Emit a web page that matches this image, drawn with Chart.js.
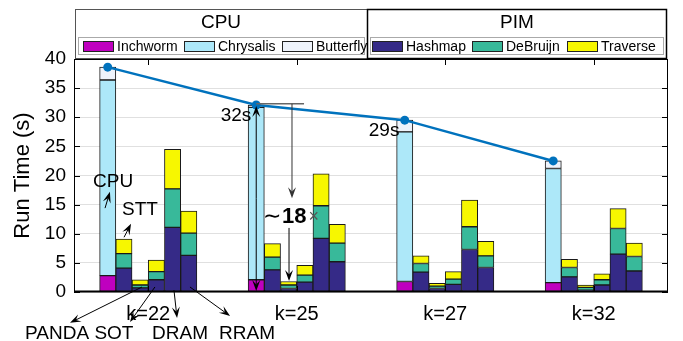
<!DOCTYPE html>
<html>
<head>
<meta charset="utf-8">
<script src="https://cdn.jsdelivr.net/npm/chart.js@4.4.0/dist/chart.umd.min.js"></script>
<style>
  html, body { margin: 0; padding: 0; background: #fff; }
  #wrap { width: 683px; height: 341px; }
</style>
</head>
<body>
<div id="wrap"><canvas id="myChart" width="683" height="341"></canvas></div>
<script>
// groups on x axis
const kLabels = ['k=22', 'k=25', 'k=27', 'k=32'];
const pimTypes = ['STT', 'PANDA', 'SOT', 'DRAM', 'RRAM'];

// CPU stages (s), one per k
const inchworm  = [2.8, 2.1, 1.8, 1.6];
const chrysalis = [33.6, 29.6, 25.7, 19.6];
const butterfly = [2.2, 0.4, 2.0, 1.3];

// PIM stages (s): rows follow pimTypes, columns follow kLabels
const hashmap = [
  [4.1, 3.8, 3.4, 2.6],
  [0.7, 0.6, 0.6, 0.3],
  [2.1, 1.7, 1.3, 1.2],
  [11.1, 9.2, 7.3, 6.5],
  [6.3, 5.2, 4.2, 3.6]
];
const debruijn = [
  [2.5, 2.2, 1.5, 1.6],
  [0.5, 0.6, 0.4, 0.5],
  [1.4, 1.2, 0.9, 0.9],
  [6.6, 5.6, 3.9, 4.4],
  [3.8, 3.2, 2.0, 2.5]
];
const traverse = [
  [2.5, 2.3, 1.3, 1.4],
  [0.9, 0.6, 0.5, 0.4],
  [2.0, 1.7, 1.3, 1.0],
  [6.8, 5.5, 4.6, 3.4],
  [3.8, 3.2, 2.5, 2.3]
];

// y axis
const yMax = 40;
const yStep = 5;

// 색상
const colors = {
  Inchworm: '#BF00BF',
  Chrysalis: '#ADE8F9',
  Butterfly: '#EEF3FB',
  Hashmap: '#352A87',
  DeBruijn: '#38B99A',
  Traverse: '#F7F700'
};
const lineColor = '#0072BD';
const FONT = '"Liberation Sans", Arial, Helvetica, sans-serif';

Chart.defaults.font.family = FONT;
Chart.defaults.color = '#000';

// bar slots inside one k group (CPU + 5 PIM)
const groupFill = 0.655;
const nSlots = 1 + pimTypes.length;
const slotW = groupFill / nSlots;
const xPos = (g, j) => g + (j - (nSlots - 1) / 2) * slotW;

const cpuTotals = inchworm.map((v, i) => +(v + chrysalis[i] + butterfly[i]).toFixed(2));

const barDs = (label, points) => ({
  type: 'bar',
  label: label,
  data: points,
  backgroundColor: colors[label],
  borderColor: '#1a1a1a',
  borderWidth: 1,
  borderSkipped: false,
  categoryPercentage: 1.0,
  barPercentage: 1.0
});

const cpuPoints = (arr) => arr.map((v, g) => ({ x: xPos(g, 0), y: v }));
const pimPoints = (rows) => {
  let pts = [];
  rows.forEach((row, j) => {
    row.forEach((v, g) => pts.push({ x: xPos(g, j + 1), y: v }));
  });
  return pts;
};

let datasets = [
  barDs('Inchworm', cpuPoints(inchworm)),
  barDs('Chrysalis', cpuPoints(chrysalis)),
  barDs('Butterfly', cpuPoints(butterfly)),
  barDs('Hashmap', pimPoints(hashmap)),
  barDs('DeBruijn', pimPoints(debruijn)),
  barDs('Traverse', pimPoints(traverse)),
  {
    type: 'line',
    label: 'CPU total',
    data: cpuPoints(cpuTotals),
    borderColor: lineColor,
    backgroundColor: lineColor,
    borderWidth: 2.5,
    pointRadius: 4.5,
    pointBackgroundColor: lineColor,
    pointBorderWidth: 0,
    order: -1
  }
];

const drawArrow = (c, x1, y1, x2, y2, color) => {
  const ang = Math.atan2(y2 - y1, x2 - x1);
  const len = 11, half = 4;
  c.save();
  c.strokeStyle = color;
  c.fillStyle = color;
  c.lineWidth = 1;
  c.beginPath();
  c.moveTo(x1, y1);
  c.lineTo(x2 - Math.cos(ang) * len * 0.6, y2 - Math.sin(ang) * len * 0.6);
  c.stroke();
  c.translate(x2, y2);
  c.rotate(ang);
  c.beginPath();
  c.moveTo(0, 0);
  c.lineTo(-len, -half);
  c.lineTo(-len * 0.6, 0);
  c.lineTo(-len, half);
  c.closePath();
  c.fill();
  c.restore();
};

// annotations, in (x index, seconds)
const memLabels = [
  { text: 'PANDA', from: [-0.042, 0.86], to: [-0.527, -5.3], at: [-0.614, -7.2] },
  { text: 'SOT',   from: [0.045, 0.86],  to: [-0.123, -5.15], at: [-0.231, -7.2] },
  { text: 'DRAM',  from: [0.173, 0.34],  to: [0.194, -4.46], at: [0.214, -7.2] },
  { text: 'RRAM',  from: [0.281, 0.86],  to: [0.551, -4.12], at: [0.665, -7.2] }
];
const upLabels = [
  { text: 'CPU', from: [-0.291, 14.4], to: [-0.258, 17.2], at: [-0.237, 18.9] },
  { text: 'STT', from: [-0.163, 9.4],  to: [-0.116, 11.7], at: [-0.056, 14.1] }
];
const timeLabels = [
  { text: '32s', at: [0.591, 30.2] },
  { text: '29s', at: [1.588, 27.6] }
];

const annotePlugin = {
  id: 'annote',
  afterDatasetsDraw(chart) {
    const c = chart.ctx;
    const xs = chart.scales.x, ys = chart.scales.y;
    const P = (p) => [xs.getPixelForValue(p[0]), ys.getPixelForValue(p[1])];
    c.save();
    c.textAlign = 'center';
    c.textBaseline = 'middle';
    c.fillStyle = '#000';

    c.font = '19px ' + FONT;
    upLabels.concat(memLabels).forEach(l => {
      const a = P(l.from), b = P(l.to), t = P(l.at);
      drawArrow(c, a[0], a[1], b[0], b[1], '#000');
      c.fillText(l.text, t[0], t[1]);
    });
    timeLabels.forEach(l => {
      const t = P(l.at);
      c.fillText(l.text, t[0], t[1]);
    });

    // 32s 기준선과 ~18x 화살표
    const xc = xPos(1, 0);
    const top = P([xc, cpuTotals[1]]);
    const bot = P([xc, 0]);
    drawArrow(c, top[0], (top[1] + bot[1]) / 2, top[0], top[1] + 1, '#000');
    drawArrow(c, top[0], (top[1] + bot[1]) / 2, top[0], bot[1] - 1, '#000');
    const h0 = P([xc, 32.3]), h1 = P([1.049, 32.3]);
    c.strokeStyle = '#666';
    c.lineWidth = 1.5;
    c.beginPath();
    c.moveTo(h0[0], h0[1]);
    c.lineTo(h1[0], h1[1]);
    c.stroke();
    const a1 = P([0.968, 32.3]), a2 = P([0.968, 16.1]);
    drawArrow(c, a1[0], a1[1], a2[0], a2[1], '#333');
    const b1 = P([0.948, 11.0]), b2 = P([0.948, 1.9]);
    drawArrow(c, b1[0], b1[1], b2[0], b2[1], '#000');

    const m = P([0.961, 12.9]);
    c.textAlign = 'left';
    c.font = '22px ' + FONT;
    const w1 = c.measureText('\u223C').width;
    c.font = 'bold 22px ' + FONT;
    const w2 = c.measureText('18').width;
    c.font = '18px ' + FONT;
    const w3 = c.measureText('\u00D7').width;
    let x = m[0] - (w1 + w2 + w3 + 3) / 2;
    c.font = '22px ' + FONT;
    c.fillText('\u223C', x, m[1]);
    x += w1 + 1;
    c.font = 'bold 22px ' + FONT;
    c.fillText('18', x, m[1]);
    x += w2 + 2;
    c.font = '18px ' + FONT;
    c.fillStyle = '#555';
    c.fillText('\u00D7', x, m[1]);
    c.restore();
  }
};

const framePlugin = {
  id: 'frame',
  afterDraw(chart) {
    const c = chart.ctx;
    const a = chart.chartArea;
    const xs = chart.scales.x, ys = chart.scales.y;
    c.save();
    c.strokeStyle = '#000';
    c.lineWidth = 1;
    c.strokeRect(a.left + 0.5, a.top + 0.5, a.right - a.left - 1, a.bottom - a.top - 1);
    c.lineWidth = 2;
    c.beginPath();
    c.moveTo(a.left, a.bottom - 0.5);
    c.lineTo(a.right, a.bottom - 0.5);
    c.stroke();
    c.lineWidth = 1;
    c.beginPath();
    kLabels.forEach((k, i) => {
      const x = Math.round(xs.getPixelForValue(i)) + 0.5;
      c.moveTo(x, a.top);
      c.lineTo(x, a.top + 6);
      c.moveTo(x, a.bottom);
      c.lineTo(x, a.bottom - 6);
    });
    for (let v = 0; v <= yMax; v += yStep) {
      const y = Math.round(ys.getPixelForValue(v)) + 0.5;
      c.moveTo(a.right, y);
      c.lineTo(a.right - 6, y);
      c.moveTo(a.left, y);
      c.lineTo(a.left + 6, y);
    }
    c.stroke();

    // 범례 상자
    const L = a.left + 1, M = 367, R = a.right - 1, T = 9, B = 58;
    c.fillStyle = '#fff';
    c.fillRect(L, T, R - L, B - T);
    c.strokeStyle = '#555';
    c.strokeRect(L + 0.5, T + 0.5, M - L, B - T);
    c.strokeStyle = '#000';
    c.lineWidth = 1.5;
    c.strokeRect(M + 0.5, T + 0.5, R - M - 1, B - T);
    c.lineWidth = 1;
    c.strokeStyle = '#aaa';
    c.strokeRect(L + 3.5, 37.5, M - L - 6, 17);
    c.strokeRect(M + 3.5, 37.5, R - M - 7, 17);

    c.fillStyle = '#000';
    c.textAlign = 'center';
    c.textBaseline = 'middle';
    c.font = '19px ' + FONT;
    c.fillText('CPU', (L + M) / 2, 23);
    c.fillText('PIM', (M + R) / 2, 23);

    const items = [
      ['Inchworm', 83], ['Chrysalis', 184], ['Butterfly', 282],
      ['Hashmap', 372], ['DeBruijn', 472], ['Traverse', 567]
    ];
    c.font = '14px ' + FONT;
    c.textAlign = 'left';
    items.forEach(([name, x]) => {
      c.fillStyle = colors[name];
      c.fillRect(x, 41, 31, 11);
      c.strokeStyle = '#222';
      c.strokeRect(x + 0.5, 41.5, 30, 10);
      c.fillStyle = '#000';
      c.fillText(name, x + 34, 47);
    });
    c.restore();
  }
};

let ctx = document.querySelector('#myChart');

let charter = new Chart(ctx, {
  type: 'bar',
  data: {
    datasets: datasets
  },
  options: {
    responsive: false,
    animation: false,
    devicePixelRatio: 1,
    layout: { padding: { top: 59, right: 15, left: 0, bottom: 0 } },
    plugins: {
      legend: { display: false },
      tooltip: { enabled: false }
    },
    scales: {
      x: {
        type: 'linear',
        stacked: true,
        offset: false,
        min: -0.5,
        max: kLabels.length - 0.5,
        grid: { display: false, drawTicks: false, offset: false },
        border: { display: false },
        afterBuildTicks: (s) => { s.ticks = kLabels.map((k, i) => ({ value: i })); },
        ticks: {
          autoSkip: false,
          maxRotation: 0,
          font: { size: 20 },
          padding: 10,
          color: '#000',
          callback: (v, i) => kLabels[i]
        },
        afterFit: (s) => { s.height = 49; }
      },
      y: {
        stacked: true,
        min: 0,
        max: yMax,
        grid: { color: '#e0e0e0', drawTicks: false },
        border: { display: false },
        ticks: { stepSize: yStep, font: { size: 19 }, padding: 8, color: '#000' },
        title: { display: true, text: 'Run Time (s)', font: { size: 22 }, padding: { top: 10, bottom: 0 }, color: '#000' },
        afterFit: (s) => { s.width = 74; }
      }
    }
  },
  plugins: [annotePlugin, framePlugin]
});
</script>
</body>
</html>
